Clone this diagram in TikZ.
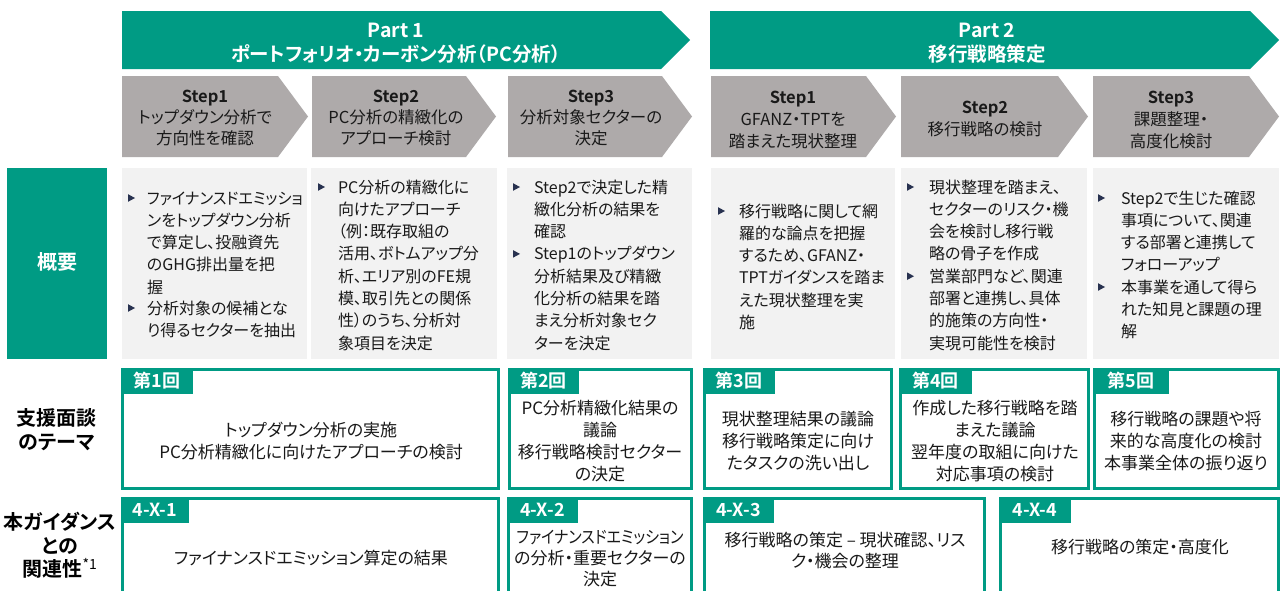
\documentclass[tikz,border=0pt]{standalone}
\usepackage{graphicx}
\usepackage{fontspec}
\setmainfont{Noto Sans CJK JP}[BoldFont={Noto Sans CJK JP Bold},RawFeature=+palt]
\definecolor{pgreen}{RGB}{0,155,132}
\definecolor{cgray}{RGB}{174,170,170}
\definecolor{boxgray}{RGB}{242,242,242}
\definecolor{txt}{RGB}{25,25,25}
\definecolor{bulc}{RGB}{40,50,80}
\newcommand{\fbody}{\fontsize{16}{22.3}\selectfont}
\newcommand{\fstep}{\fontsize{16.5}{21}\selectfont}
\newcommand{\fstepb}{\fontsize{16.5}{22}\selectfont}
\newcommand{\fpart}{\fontsize{19.5}{24}\selectfont\bfseries}
\newcommand{\frow}{\fontsize{17}{22}\selectfont}
\newcommand{\frowb}{\fontsize{17}{21}\selectfont}
\newcommand{\ftag}{\fontsize{18}{20}\selectfont\bfseries}
\newcommand{\flab}{\fontsize{20}{24}\selectfont\bfseries}
\newcommand{\bulmark}[2]{\fill[bulc] (#1,#2-3.8) -- (#1+7,#2) -- (#1,#2+3.8) -- cycle;}
\tikzset{
  every node/.style={inner sep=0pt, outer sep=0pt},
  banner/.style={fill=pgreen},
  chev/.style={fill=cgray},
  gbox/.style={fill=boxgray, anchor=north west, minimum height=191},
  lbox/.style={fill=pgreen, anchor=north west, minimum height=191},
  rbox/.style={draw=pgreen, line width=3pt, anchor=north west},
  tagbox/.style={fill=pgreen, anchor=north west, minimum height=26, text=white, font=\ftag},
  ptext/.style={anchor=base, text=white, font=\fpart},
  stxt/.style={anchor=base, text=txt, font=\fstep},
  btxt/.style={anchor=base west, text=txt, font=\fbody},
  rtxt/.style={anchor=base, text=txt, font=\frow},
  labtxt/.style={anchor=base, text=black, font=\flab},
}
\begin{document}
\begin{tikzpicture}[x=1pt,y=-1pt]
\clip (0,0) rectangle (1281,590);
\fill[white] (0,0) rectangle (1281,590);

% Part banners
\fill[banner] (122,11) -- (661,11) -- (690,40) -- (661,69) -- (122,69) -- cycle;
\fill[banner] (710,11) -- (1250,11) -- (1279,40) -- (1250,69) -- (710,69) -- cycle;
\node[ptext] (p1) at (396,37.4) {\parbox[t]{500pt}{\centering Part 1\\ポートフォリオ・カーボン分析（PC分析）}};
\node[ptext] (p2) at (987,37.4) {\parbox[t]{500pt}{\centering Part 2\\移行戦略策定}};

% Step chevrons
\fill[chev] (122,76) -- (278,76) -- (308,116.5) -- (278,157) -- (122,157) -- cycle;
\fill[chev] (312,76) -- (466,76) -- (496,116.5) -- (466,157) -- (312,157) -- cycle;
\fill[chev] (508,76) -- (662,76) -- (692,116.5) -- (662,157) -- (508,157) -- cycle;
\fill[chev] (711,76) -- (866,76) -- (896,116.5) -- (866,157) -- (711,157) -- cycle;
\fill[chev] (901,76) -- (1058,76) -- (1088,116.5) -- (1058,157) -- (901,157) -- cycle;
\fill[chev] (1093,76) -- (1249,76) -- (1279,116.5) -- (1249,157) -- (1093,157) -- cycle;

\node[stxt] (s1) at (205,102.3) {\parbox[t]{180pt}{\centering\textbf{Step1}\\トップダウン分析で\\方向性を確認}};
\node[stxt] (s2) at (396,102.3) {\parbox[t]{180pt}{\centering\textbf{Step2}\\PC分析の精緻化の\\アプローチ検討}};
\node[stxt] (s3) at (591,102.3) {\parbox[t]{180pt}{\centering\textbf{Step3}\\分析対象セクターの\\決定}};
\node[stxt, font=\fstepb] (s4) at (793,103.8) {\parbox[t]{180pt}{\centering\textbf{Step1}\\GFANZ・TPTを\\踏まえた現状整理}};
\node[stxt, font=\fstepb] (s5) at (985,113.3) {\parbox[t]{180pt}{\centering\textbf{Step2}\\移行戦略の検討}};
\node[stxt, font=\fstepb] (s6) at (1171,103.8) {\parbox[t]{180pt}{\centering\textbf{Step3}\\課題整理・\\高度化検討}};

% Overview row
\node[lbox, minimum width=100] (lov) at (7,168) {};
\node[labtxt, text=white] (lovt) at (57,269.6) {概要};
\node[gbox, minimum width=185] (g1) at (122,168) {};
\node[gbox, minimum width=186] (g2) at (311,168) {};
\node[gbox, minimum width=185] (g3) at (507,168) {};
\node[gbox, minimum width=184] (g4) at (711,168) {};
\node[gbox, minimum width=186] (g5) at (901,168) {};
\node[gbox, minimum width=186] (g6) at (1093,168) {};

% box 1
\bulmark{128}{198}
\node[btxt] (g1a) at (147,204) {\parbox[t]{175pt}{\raggedright \scalebox{0.95}[1]{ファイナンスドエミッショ}\\ンをトップダウン分析\\で算定し、投融資先\\のGHG排出量を把\\握}};
\bulmark{128}{308}
\node[btxt] (g1b) at (147,314) {\parbox[t]{175pt}{\raggedright 分析対象の候補とな\\り得るセクターを抽出}};
% box 2
\bulmark{318}{187}
\node[btxt] (g2a) at (338,193) {\parbox[t]{175pt}{\raggedright PC分析の精緻化に\\向けたアプローチ\\（例：既存取組の\\活用、ボトムアップ分\\析、エリア別のFE規\\模、取引先との関係\\性）のうち、分析対\\象項目を決定}};
% box 3
\bulmark{513}{187}
\node[btxt] (g3a) at (534,193) {\parbox[t]{175pt}{\raggedright Step2で決定した精\\緻化分析の結果を\\確認}};
\bulmark{513}{253.9}
\node[btxt] (g3b) at (534,259.9) {\parbox[t]{175pt}{\raggedright Step1のトップダウン\\分析結果及び精緻\\化分析の結果を踏\\まえ分析対象セク\\ターを決定}};
% box 4
\bulmark{718}{211}
\node[btxt] (g4a) at (739,217) {\parbox[t]{175pt}{\raggedright 移行戦略に関して網\\羅的な論点を把握\\するため、GFANZ・\\TPTガイダンスを踏ま\\えた現状整理を実\\施}};
% box 5
\bulmark{907}{187}
\node[btxt] (g5a) at (929,193) {\parbox[t]{175pt}{\raggedright 現状整理を踏まえ、\\セクターのリスク・機\\会を検討し移行戦\\略の骨子を作成}};
\bulmark{907}{276.2}
\node[btxt] (g5b) at (929,282.2) {\parbox[t]{175pt}{\raggedright 営業部門など、関連\\部署と連携し、具体\\的施策の方向性・\\実現可能性を検討}};
% box 6
\bulmark{1098}{198}
\node[btxt] (g6a) at (1121,204) {\parbox[t]{175pt}{\raggedright Step2で生じた確認\\事項について、関連\\する部署と連携して\\フォローアップ}};
\bulmark{1098}{287}
\node[btxt] (g6b) at (1121,293) {\parbox[t]{175pt}{\raggedright 本事業を通して得ら\\れた知見と課題の理\\解}};

% Row labels
\node[labtxt] (l3) at (57,425.6) {\parbox[t]{120pt}{\centering 支援面談\\のテーマ}};
\node[labtxt, font=\fontsize{20}{23.5}\selectfont\bfseries] (l4) at (60,529.6) {\parbox[t]{120pt}{\centering 本ガイダンス\\との\\関連性\textsuperscript{\normalfont *1}}};

% Row 3 boxes
\node[rbox, minimum width=376, minimum height=119] (r1) at (122.5,369.5) {};
\node[rbox, minimum width=182, minimum height=119] (r2) at (509.5,369.5) {};
\node[rbox, minimum width=187, minimum height=119] (r3) at (704.5,369.5) {};
\node[rbox, minimum width=188, minimum height=119] (r4) at (900.5,369.5) {};
\node[rbox, minimum width=184, minimum height=119] (r5) at (1094.5,369.5) {};
\node[tagbox, minimum width=72] (t1) at (121,368) {第1回};
\node[tagbox, minimum width=71] (t2) at (508,368) {第2回};
\node[tagbox, minimum width=72] (t3) at (703,368) {第3回};
\node[tagbox, minimum width=73] (t4) at (899,368) {第4回};
\node[tagbox, minimum width=76] (t5) at (1093,368) {第5回};
\node[rtxt] (r1t) at (311,436.5) {\parbox[t]{360pt}{\centering トップダウン分析の実施\\PC分析精緻化に向けたアプローチの検討}};
\node[rtxt] (r2t) at (600,414.5) {\parbox[t]{180pt}{\centering PC分析精緻化結果の\\議論\\移行戦略検討セクター\\の決定}};
\node[rtxt] (r3t) at (798,425.5) {\parbox[t]{180pt}{\centering 現状整理結果の議論\\移行戦略策定に向け\\たタスクの洗い出し}};
\node[rtxt] (r4t) at (995,414.5) {\parbox[t]{180pt}{\centering 作成した移行戦略を踏\\まえた議論\\翌年度の取組に向けた\\対応事項の検討}};
\node[rtxt] (r5t) at (1186,425.5) {\parbox[t]{180pt}{\centering 移行戦略の課題や将\\来的な高度化の検討\\本事業全体の振り返り}};

% Row 4 boxes
\node[rbox, minimum width=376, minimum height=130] (q1) at (122.5,498.5) {};
\node[rbox, minimum width=183, minimum height=130] (q2) at (508.5,498.5) {};
\node[rbox, minimum width=280, minimum height=130] (q3) at (704.5,498.5) {};
\node[rbox, minimum width=278, minimum height=130] (q4) at (1000.5,498.5) {};
\node[tagbox, minimum width=68] (u1) at (121,497) {4-X-1};
\node[tagbox, minimum width=71] (u2) at (507,497) {4-X-2};
\node[tagbox, minimum width=71] (u3) at (703,497) {4-X-3};
\node[tagbox, minimum width=72] (u4) at (999,497) {4-X-4};
\node[rtxt] (q1t) at (311,564.5) {ファイナンスドエミッション算定の結果};
\node[rtxt, font=\frowb] (q2t) at (600,543.5) {\parbox[t]{180pt}{\centering \scalebox{0.88}[1]{ファイナンスドエミッション}\\の分析・重要セクターの\\決定}};
\node[rtxt, font=\frowb] (q3t) at (845,546.5) {\parbox[t]{270pt}{\centering 移行戦略の策定 – 現状確認、リス\\ク・機会の整理}};
\node[rtxt] (q4t) at (1140,553.5) {移行戦略の策定・高度化};
\end{tikzpicture}
\end{document}
